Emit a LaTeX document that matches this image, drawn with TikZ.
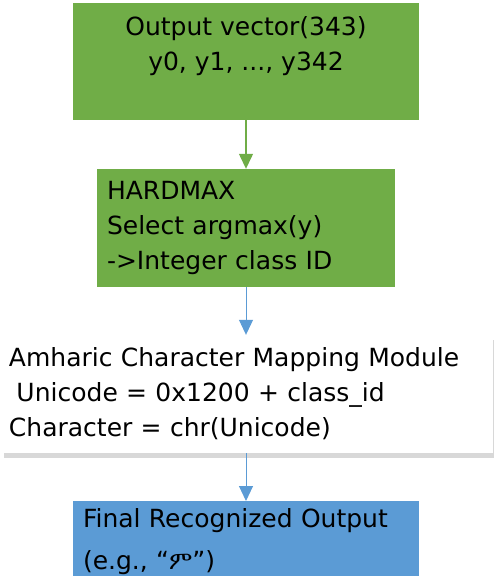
\documentclass[tikz,border=0pt]{standalone}
\usepackage{fontspec}
\setmainfont{DejaVu Sans}
\newfontfamily\ethfont{FreeSerif}
\usepackage{xcolor}
\usepackage{tikz}
\usetikzlibrary{arrows.meta,positioning,shadows}

\definecolor{offgreen}{HTML}{70AD47}
\definecolor{offblue}{HTML}{5B9BD5}

\begin{document}
\begin{tikzpicture}[x=1pt, y=-1pt,
    blk/.style={rectangle, inner sep=0pt, font=\fontsize{25}{35}\selectfont,
      minimum height=118pt, draw=none},
    fl/.style={-{Triangle[width=14pt,length=15pt]}, line width=1.3pt}
  ]
    \useasboundingbox (0,0) rectangle (496,576);

    \node[blk, fill=offgreen, minimum width=346pt, minimum height=117pt,
      align=center] (vec) at (246,61.5)
      {Output vector(343)\\y0, y1, ..., y342\\\mbox{}};
    \node[blk, fill=offgreen, minimum width=298pt, text width=278pt,
      align=left] (hmax) at (246,228)
      {HARDMAX\\Select argmax(y)\\->Integer class ID};
    \node[blk, fill=white, minimum width=490pt, text width=478pt,
      align=left, drop shadow={shadow xshift=1pt, shadow yshift=-5pt,
      fill=black!30}] (amap) at (248,394)
      {Amharic Character Mapping Module\\
       \hspace{0.3em}Unicode = 0x1200 + class\_id\\
       Character = chr(Unicode)};
    \node[blk, fill=offblue, minimum width=346pt, text width=326pt,
      minimum height=80pt, align=left, anchor=north] (final) at (246,501)
      {Final Recognized Output\\[7pt](e.g., “{\ethfont ም}”)};

    \draw[fl, offgreen] (vec) -- (hmax);
    \foreach \a/\b in {hmax/amap, amap/final} {
      \draw[fl, offblue, line width=1pt] (\a.south -| hmax) -- (\b.north -| hmax);
    }
  \end{tikzpicture}
\end{document}
